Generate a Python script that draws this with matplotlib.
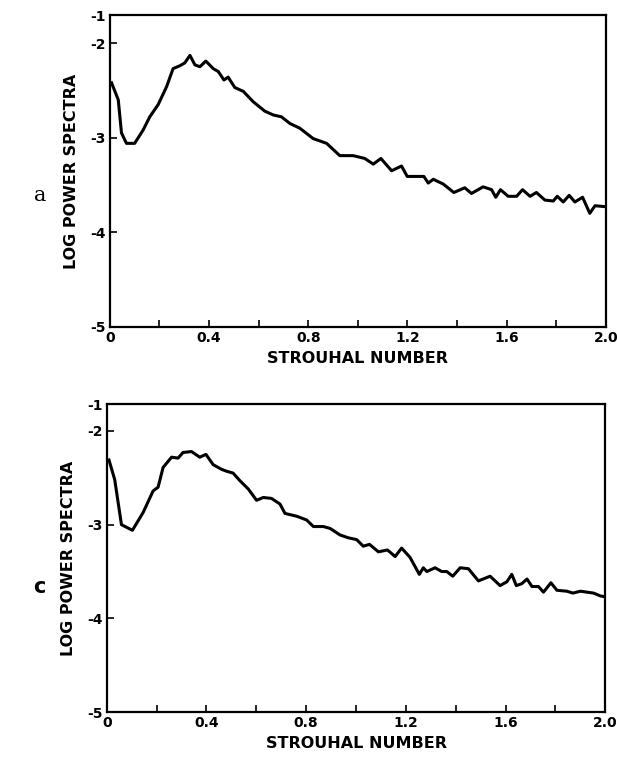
import numpy as np
import matplotlib
matplotlib.use("Agg")
import matplotlib.pyplot as plt

# panel a: strouhal number vs log power spectra
st_a = [0.007, 0.034, 0.047, 0.067, 0.100, 0.134, 0.161, 0.195, 0.229, 0.255,
        0.282, 0.302, 0.323, 0.343, 0.363, 0.387, 0.417, 0.437, 0.460, 0.477,
        0.504, 0.538, 0.578, 0.625, 0.659, 0.692, 0.726, 0.766, 0.820, 0.874,
        0.927, 0.981, 1.028, 1.062, 1.093, 1.136, 1.176, 1.199, 1.230, 1.266,
        1.284, 1.304, 1.344, 1.387, 1.431, 1.458, 1.505, 1.539, 1.556, 1.575,
        1.606, 1.640, 1.664, 1.694, 1.720, 1.754, 1.788, 1.804, 1.828, 1.852,
        1.875, 1.906, 1.935, 1.956, 2.000]
lp_a = [-2.42, -2.60, -2.95, -3.06, -3.06, -2.92, -2.78, -2.65, -2.46, -2.27,
        -2.24, -2.21, -2.13, -2.23, -2.25, -2.19, -2.27, -2.30, -2.39, -2.36,
        -2.47, -2.51, -2.62, -2.72, -2.76, -2.78, -2.85, -2.90, -3.01, -3.06,
        -3.19, -3.19, -3.22, -3.28, -3.22, -3.35, -3.30, -3.41, -3.41, -3.41,
        -3.48, -3.44, -3.49, -3.58, -3.53, -3.59, -3.52, -3.55, -3.63, -3.55,
        -3.62, -3.62, -3.55, -3.62, -3.58, -3.66, -3.67, -3.62, -3.68, -3.61,
        -3.68, -3.63, -3.80, -3.72, -3.73]

# panel c
st_c = [0.009, 0.032, 0.059, 0.103, 0.146, 0.186, 0.206, 0.226, 0.260, 0.286,
        0.306, 0.340, 0.373, 0.398, 0.427, 0.461, 0.481, 0.507, 0.534, 0.568,
        0.601, 0.628, 0.661, 0.695, 0.715, 0.762, 0.802, 0.829, 0.869, 0.896,
        0.936, 0.969, 1.003, 1.029, 1.054, 1.090, 1.126, 1.157, 1.183, 1.217,
        1.254, 1.270, 1.284, 1.317, 1.344, 1.364, 1.388, 1.418, 1.451, 1.491,
        1.538, 1.578, 1.605, 1.625, 1.643, 1.665, 1.686, 1.706, 1.732, 1.752,
        1.782, 1.806, 1.846, 1.870, 1.900, 1.953, 1.980, 2.000]
lp_c = [-2.31, -2.52, -3.00, -3.06, -2.87, -2.64, -2.60, -2.39, -2.28, -2.29,
        -2.23, -2.22, -2.28, -2.25, -2.36, -2.41, -2.43, -2.45, -2.53, -2.62,
        -2.74, -2.71, -2.72, -2.78, -2.88, -2.91, -2.95, -3.02, -3.02, -3.04,
        -3.11, -3.14, -3.16, -3.23, -3.21, -3.29, -3.27, -3.34, -3.25, -3.35,
        -3.53, -3.46, -3.50, -3.46, -3.50, -3.50, -3.55, -3.46, -3.47, -3.60,
        -3.55, -3.65, -3.61, -3.53, -3.65, -3.63, -3.58, -3.66, -3.66, -3.72,
        -3.62, -3.70, -3.71, -3.73, -3.71, -3.73, -3.76, -3.77]

x_ticks = [0, 0.4, 0.8, 1.2, 1.6, 2.0]
x_labels = ["0", "0.4", "0.8", "1.2", "1.6", "2.0"]
y_labels = ["-5", "-4", "-3", "-2", "-1"]

fig = plt.figure(figsize=(6.17, 7.6), dpi=100)

panels = [
    ([0.178, 0.570, 0.804, 0.410], st_a, lp_a, "a", -1.705, (-0.141, 0.42),
     dict(family="DejaVu Serif", fontsize=15)),
    ([0.173, 0.063, 0.808, 0.405], st_c, lp_c, "c", -1.716, (-0.135, 0.406),
     dict(family="DejaVu Sans", fontsize=15, fontweight="bold")),
]

for rect, x, y, tag, ytop, tagpos, tagstyle in panels:
    ax = fig.add_axes(rect)
    ax.plot(x, y, color="black", lw=2.2, solid_joinstyle="round")
    ax.set_xlim(0, 2.0)
    ax.set_ylim(-5, ytop)
    ax.set_xticks(x_ticks)
    ax.set_xticklabels(x_labels, fontsize=10, fontweight="bold")
    ax.set_xticks(np.arange(0.2, 2.0, 0.4), minor=True)
    ax.set_yticks([-5, -4, -3, -2, ytop])
    ax.set_yticklabels(y_labels, fontsize=10, fontweight="bold")
    ax.tick_params(which="both", direction="in", length=5, width=1.2, pad=3)
    for s in ax.spines.values():
        s.set_linewidth(1.6)
    ax.set_xlabel("STROUHAL NUMBER", fontsize=11.5, fontweight="bold", labelpad=4)
    ax.set_ylabel("LOG POWER SPECTRA", fontsize=11.5, fontweight="bold", labelpad=8)
    ax.text(tagpos[0], tagpos[1], tag, transform=ax.transAxes,
            ha="center", va="center", **tagstyle)

fig.savefig("out.png", dpi=100)
